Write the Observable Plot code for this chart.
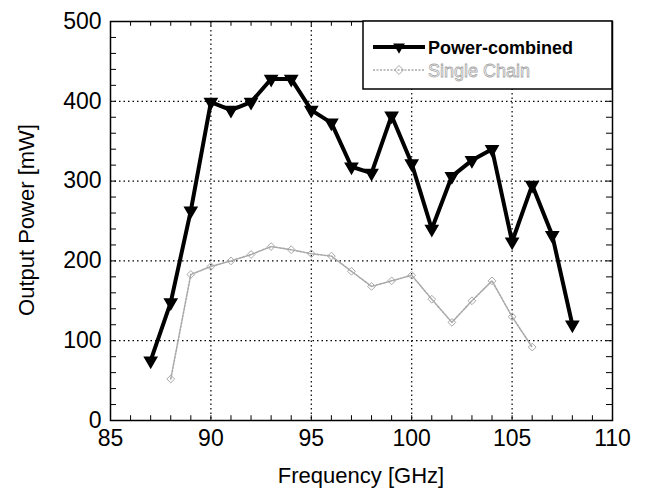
<!DOCTYPE html>
<html><head><meta charset="utf-8">
<script src="https://cdn.jsdelivr.net/npm/d3@7"></script>
<script src="https://cdn.jsdelivr.net/npm/@observablehq/plot@0.6"></script>
<style>body{margin:0;background:#fff;}</style>
</head><body><div id="chart"></div>
<script>
const freqCombined  = [87, 88, 89, 90, 91, 92, 93, 94, 95, 96, 97, 98, 99, 100, 101, 102, 103, 104, 105, 106, 107, 108];
const powerCombined = [75, 148, 263, 399, 389, 399, 428, 428, 389, 373, 318, 310, 382, 322, 240, 306, 326, 340, 224, 295, 232, 120];
const freqSingle  = [88, 89, 90, 91, 92, 93, 94, 95, 96, 97, 98, 99, 100, 101, 102, 103, 104, 105, 106];
const powerSingle = [52, 183, 193, 200, 208, 218, 214, 209, 206, 187, 168, 175, 182, 152, 123, 150, 175, 130, 92];
const xMajorTicks = [85, 90, 95, 100, 105, 110];
const yMajorTicks = [0, 100, 200, 300, 400, 500];
const xGridTicks = [90, 95, 100, 105];
const yGridTicks = [100, 200, 300, 400];
const xMinorTicks = d3.range(85, 111, 1);
const yMinorTicks = d3.range(0, 501, 20);
const seriesNames = ["Power-combined", "Single Chain"];
const xLabel = "Frequency [GHz]";
const yLabel = "Output Power [mW]";

const combined = freqCombined.map((f, i) => ({f, p: powerCombined[i]}));
const single = freqSingle.map((f, i) => ({f, p: powerSingle[i]}));

const W = 646, H = 493;
const font = "'Liberation Sans', Arial, Helvetica, sans-serif";
const gray = "#a8a8a8";

const plot = Plot.plot({
  width: W, height: H,
  marginLeft: 110, marginRight: 34, marginTop: 21, marginBottom: 73,
  style: {fontFamily: font, background: "#fff", color: "#000"},
  x: {domain: [85, 110]},
  y: {domain: [0, 500]},
  marks: [
    Plot.gridX(xGridTicks, {stroke: "#000", strokeOpacity: 1, strokeWidth: 1.2, strokeDasharray: "1.5,3"}),
    Plot.gridY(yGridTicks, {stroke: "#000", strokeOpacity: 1, strokeWidth: 1.2, strokeDasharray: "1.5,3"}),
    // inward ticks
    Plot.ruleX(xMinorTicks, {x: d => d, y1: 0, y2: 6, stroke: "#000", strokeWidth: 1}),
    Plot.ruleX(xMinorTicks, {x: d => d, y1: 500, y2: 494, stroke: "#000", strokeWidth: 1}),
    Plot.ruleY(yMinorTicks, {y: d => d, x1: 85, x2: 85.3, stroke: "#000", strokeWidth: 1}),
    Plot.ruleY(yMinorTicks, {y: d => d, x1: 110, x2: 109.7, stroke: "#000", strokeWidth: 1}),
    Plot.axisX({ticks: xMajorTicks, tickSize: 0, tickPadding: 9, fontSize: 23, label: null, tickFormat: d => d}),
    Plot.axisY({ticks: yMajorTicks, tickSize: 0, tickPadding: 9, fontSize: 23, label: null, tickFormat: d => d}),
    // single chain
    Plot.line(single, {x: "f", y: "p", stroke: gray, strokeWidth: 1.6, strokeDasharray: "2,1.5"}),
    Plot.dot(single, {x: "f", y: "p", symbol: "diamond2", r: 3.5, stroke: gray, strokeWidth: 1}),
    // power combined
    Plot.line(combined, {x: "f", y: "p", stroke: "#000", strokeWidth: 4}),
    Plot.dot(combined, {x: "f", y: "p", symbol: "triangle", rotate: 180, r: 4.5, fill: "#000", stroke: "#000"}),
    Plot.frame({stroke: "#000", strokeWidth: 1.5})
  ]
});

const svg = d3.select(plot);
// axis titles
svg.append("text").attr("x", 361).attr("y", 483).attr("text-anchor", "middle")
  .attr("font-family", font).attr("font-size", 22).attr("fill", "#000").text(xLabel);
svg.append("text").attr("transform", "translate(34,220) rotate(-90)").attr("text-anchor", "middle")
  .attr("font-family", font).attr("font-size", 22).attr("fill", "#000").text(yLabel);

// legend
const lg = svg.append("g").attr("text-anchor", "start");
lg.append("rect").attr("x", 363).attr("y", 21).attr("width", 249).attr("height", 68)
  .attr("fill", "#fff").attr("stroke", "#000").attr("stroke-width", 1.5);
lg.append("line").attr("x1", 373).attr("x2", 425).attr("y1", 47).attr("y2", 47)
  .attr("stroke", "#000").attr("stroke-width", 4);
lg.append("path").attr("d", d3.symbol(d3.symbolTriangle, 60)()).attr("transform", "translate(399,47) rotate(180)")
  .attr("fill", "#000");
lg.append("text").attr("x", 428).attr("y", 54).attr("text-anchor", "start").attr("font-family", font).attr("font-size", 18)
  .attr("font-weight", "bold").attr("fill", "#000").text(seriesNames[0]);
lg.append("line").attr("x1", 373).attr("x2", 425).attr("y1", 70).attr("y2", 70)
  .attr("stroke", gray).attr("stroke-width", 1.6).attr("stroke-dasharray", "2,1.5");
lg.append("path").attr("d", d3.symbol(d3.symbolDiamond2, 50)()).attr("transform", "translate(399,70)")
  .attr("fill", "none").attr("stroke", gray);
lg.append("text").attr("x", 428).attr("y", 77).attr("text-anchor", "start").attr("font-family", font).attr("font-size", 18)
  .attr("fill", "#fff").attr("stroke", gray).attr("stroke-width", 0.8).text(seriesNames[1]);

document.getElementById("chart").appendChild(plot);
</script>
</body></html>
